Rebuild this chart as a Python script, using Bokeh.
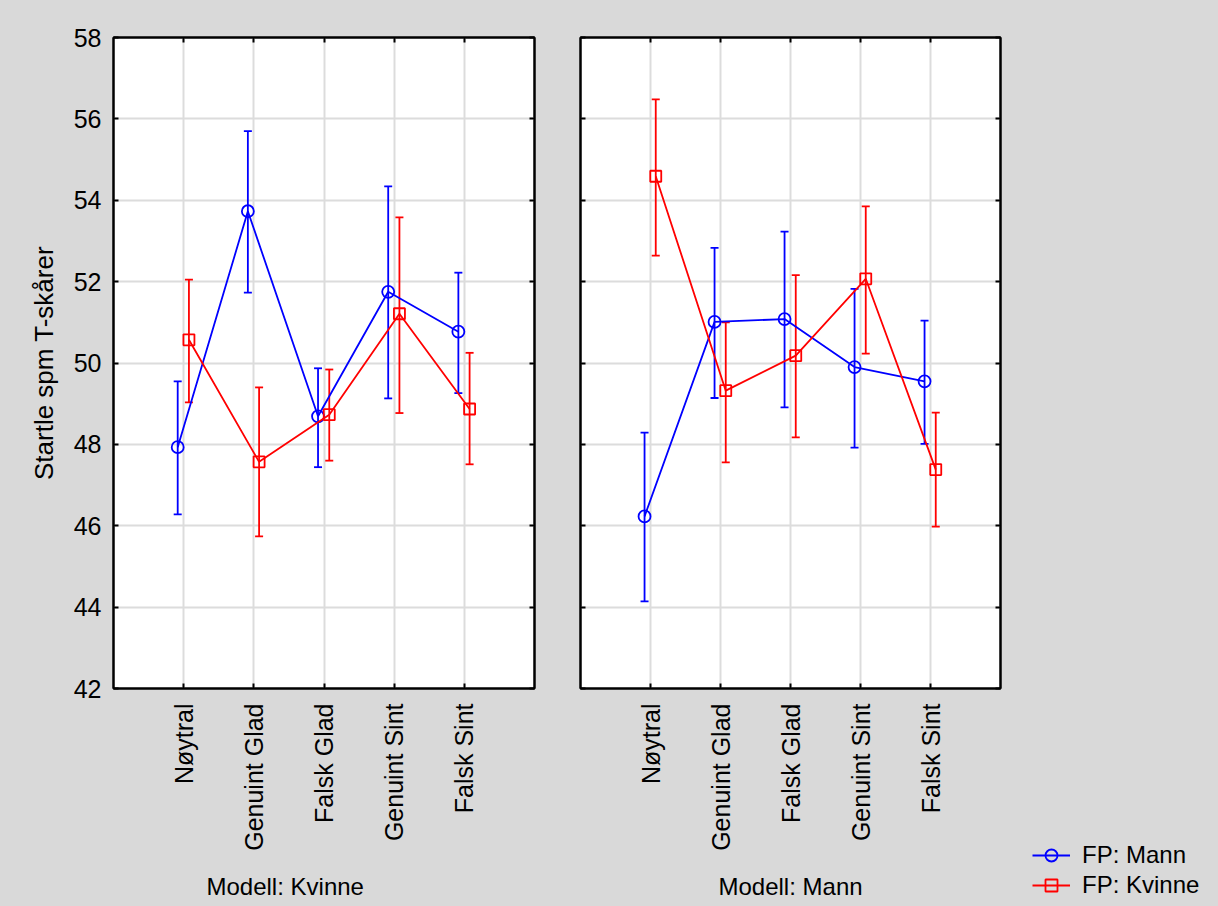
import math
from bokeh.plotting import figure
from bokeh.layouts import row
from bokeh.models import (ColumnDataSource, Whisker, TeeHead, FixedTicker, LinearAxis,
                          Legend, LegendItem, Range1d, Title, CustomLabelingPolicy)
from bokeh.embed import file_html
from bokeh.resources import INLINE

# ---------------- data ----------------
categories = ["Nøytral", "Genuint Glad", "Falsk Glad", "Genuint Sint", "Falsk Sint"]
panel_titles = ["Modell: Kvinne", "Modell: Mann"]
series_names = ["FP: Mann", "FP: Kvinne"]
y_label = "Startle spm T-skårer"
y_ticks = [42, 44, 46, 48, 50, 52, 54, 56, 58]

# Panel 1: Modell: Kvinne
kv_mann_mean = [47.93, 53.73, 48.69, 51.75, 50.77]
kv_mann_lo = [46.28, 51.73, 47.44, 49.13, 49.26]
kv_mann_hi = [49.55, 55.70, 49.87, 54.34, 52.22]
kv_kvinne_mean = [50.57, 47.57, 48.73, 51.21, 48.87]
kv_kvinne_lo = [49.03, 45.74, 47.60, 48.77, 47.51]
kv_kvinne_hi = [52.05, 49.40, 49.84, 53.58, 50.25]

# Panel 2: Modell: Mann
ma_mann_mean = [46.23, 51.01, 51.08, 49.90, 49.55]
ma_mann_lo = [44.14, 49.14, 48.91, 47.92, 48.01]
ma_mann_hi = [48.29, 52.83, 53.23, 51.82, 51.04]
ma_kvinne_mean = [54.59, 49.32, 50.18, 52.07, 47.38]
ma_kvinne_lo = [52.64, 47.56, 48.17, 50.23, 45.98]
ma_kvinne_hi = [56.48, 51.00, 52.16, 53.85, 48.78]

# ---------------- style ----------------
FONT = "Liberation Sans"
BG = "#d9d9d9"
GRID = "#dcdcdc"
COLORS = ["#0000ff", "#ff0000"]
MARKERS = ["circle", "square"]
MSIZE = [12, 11]
LW = 1.8
OFFSETS = [-0.085, 0.075]
cat_pos = [i + 1 for i in range(len(categories))]


def style_axis(ax, labels=True):
    ax.axis_line_color = "black"
    ax.axis_line_width = 2
    ax.major_tick_in = 5
    ax.major_tick_out = 0
    ax.major_tick_line_width = 2
    ax.major_tick_line_color = "black"
    ax.minor_tick_line_color = None
    ax.major_label_text_font = FONT
    ax.major_label_text_color = "black"
    ax.axis_label_text_font = FONT
    ax.axis_label_text_font_style = "normal"
    ax.axis_label_text_color = "black"
    if not labels:
        ax.major_label_policy = CustomLabelingPolicy(code="return new Set()")
        ax.major_label_standoff = 0


def make_panel(title, data, show_y, fw, bl, br, title_offset):
    p = figure(frame_width=fw, frame_height=651,
               min_border_left=bl, min_border_right=br,
               min_border_top=37, min_border_bottom=218,
               x_range=Range1d(0, 6), y_range=Range1d(42, 58),
               output_backend="svg", toolbar_location=None,
               x_axis_location=None, y_axis_location=None)
    p.border_fill_color = BG
    p.background_fill_color = "white"
    p.outline_line_color = "black"
    p.outline_line_width = 2

    xb = LinearAxis(ticker=FixedTicker(ticks=cat_pos),
                    major_label_overrides={c: n for c, n in zip(cat_pos, categories)})
    style_axis(xb)
    xb.major_label_orientation = math.pi / 2
    xb.major_label_text_font_size = "25px"
    xb.major_label_standoff = 15
    p.add_layout(xb, "below")

    t = Title(text=title, align="left", offset=title_offset,
              text_font=FONT, text_font_size="24px", text_font_style="normal",
              text_color="black", standoff=35)
    p.add_layout(t, "below")

    xa = LinearAxis(ticker=FixedTicker(ticks=cat_pos))
    style_axis(xa, labels=False)
    p.add_layout(xa, "above")

    yl = LinearAxis(ticker=FixedTicker(ticks=y_ticks))
    if show_y:
        style_axis(yl)
        yl.major_label_text_font_size = "25px"
        yl.major_label_standoff = 12
        yl.axis_label = y_label
        yl.axis_label_text_font_size = "26px"
        yl.axis_label_standoff = 12
    else:
        style_axis(yl, labels=False)
    p.add_layout(yl, "left")

    yr = LinearAxis(ticker=FixedTicker(ticks=y_ticks))
    style_axis(yr, labels=False)
    p.add_layout(yr, "right")

    p.xgrid.ticker = FixedTicker(ticks=cat_pos)
    p.ygrid.ticker = FixedTicker(ticks=y_ticks)
    for g in (p.xgrid, p.ygrid):
        g.grid_line_color = GRID
        g.grid_line_width = 2

    for k, (mean, lo, hi) in enumerate(data):
        xs = [c + OFFSETS[k] for c in cat_pos]
        src = ColumnDataSource(dict(x=xs, m=mean, lo=lo, hi=hi))
        w = Whisker(base="x", lower="lo", upper="hi", source=src,
                    line_color=COLORS[k], line_width=LW,
                    upper_head=TeeHead(size=8, line_color=COLORS[k], line_width=LW),
                    lower_head=TeeHead(size=8, line_color=COLORS[k], line_width=LW))
        p.add_layout(w)
        p.line("x", "m", source=src, line_color=COLORS[k], line_width=LW)
        p.scatter("x", "m", source=src, marker=MARKERS[k], size=MSIZE[k],
                  fill_alpha=0, line_color=COLORS[k], line_width=LW)
    return p


p1 = make_panel(panel_titles[0],
                [(kv_mann_mean, kv_mann_lo, kv_mann_hi),
                 (kv_kvinne_mean, kv_kvinne_lo, kv_kvinne_hi)],
                True, 421, 113, 23, 93)
p2 = make_panel(panel_titles[1],
                [(ma_mann_mean, ma_mann_lo, ma_mann_hi),
                 (ma_kvinne_mean, ma_kvinne_lo, ma_kvinne_hi)],
                False, 420, 23, 30, 138)

# legend panel (its own frame, not aligned with the chart frames)
p3 = figure(frame_width=188, frame_height=906, min_border=0,
            min_border_left=0, min_border_right=0, min_border_top=0, min_border_bottom=0,
            x_range=Range1d(0, 1), y_range=Range1d(0, 1),
            output_backend="svg", toolbar_location=None,
            x_axis_location=None, y_axis_location=None)
p3.frame_align = False
p3.border_fill_color = BG
p3.background_fill_color = BG
p3.outline_line_color = None
p3.xgrid.visible = False
p3.ygrid.visible = False
items = []
for k in range(2):
    # legend-only renderers, their points lie outside the visible range
    ln = p3.line(x=[-5, -4], y=[-5, -5], line_color=COLORS[k], line_width=LW)
    sc = p3.scatter(x=[-5], y=[-5], marker=MARKERS[k], size=MSIZE[k], fill_alpha=0,
                    line_color=COLORS[k], line_width=LW)
    items.append(LegendItem(label=series_names[k], renderers=[ln, sc]))

legend = Legend(items=items, location=(2, 6))
legend.glyph_width = 38
legend.glyph_height = 30
legend.label_height = 30
legend.label_standoff = 12
legend.label_text_font = FONT
legend.label_text_font_size = "24px"
legend.label_text_color = "black"
legend.padding = 0
legend.margin = 0
legend.spacing = 0
legend.background_fill_alpha = 0
legend.border_line_alpha = 0
p3.add_layout(legend)

layout = row(p1, p2, p3, spacing=0)
layout.styles = {"background-color": BG}

html = file_html(layout, INLINE)
html = html.replace("<body>", '<body style="margin:0;background:%s;">' % BG)
open("out.html", "w").write(html)
